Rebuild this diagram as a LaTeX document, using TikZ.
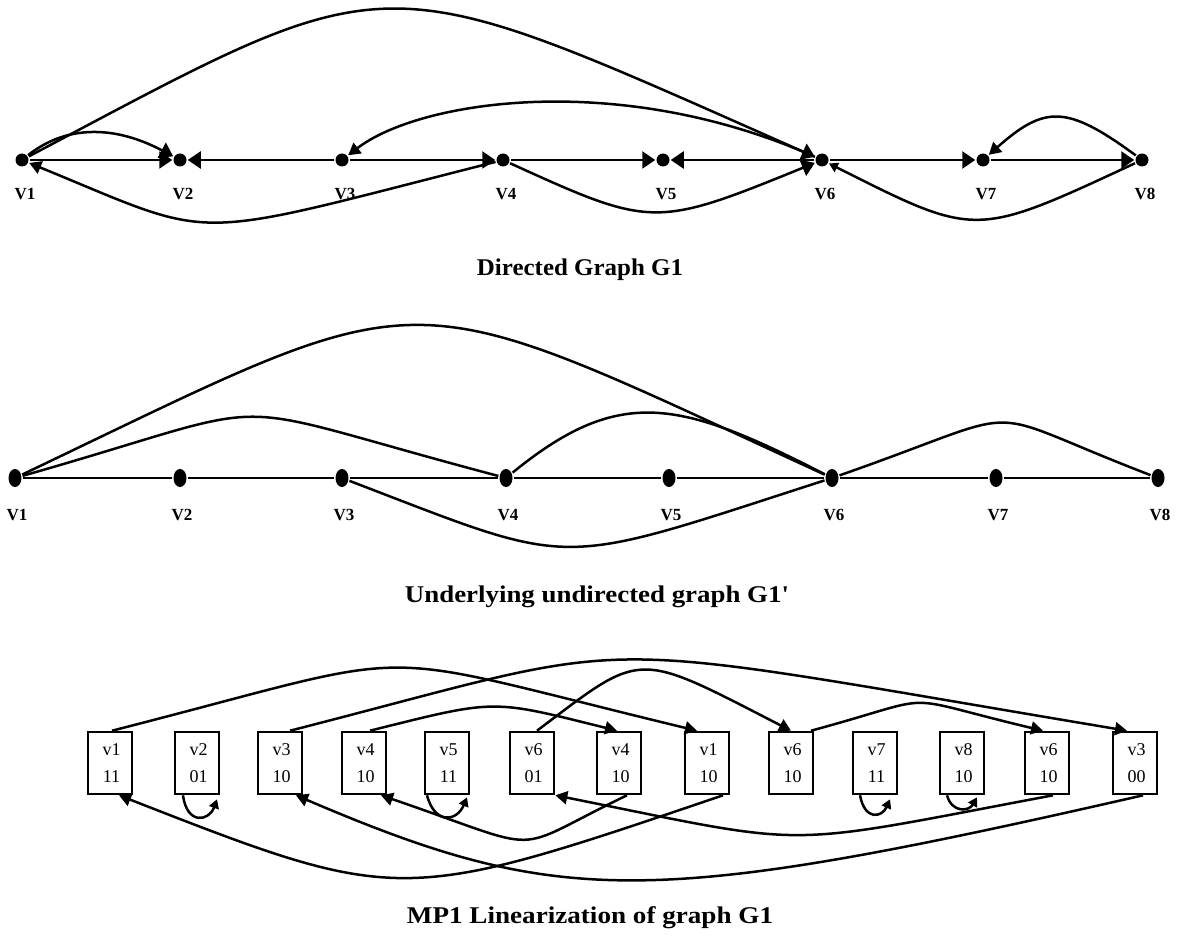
\documentclass[tikz,border=0pt]{standalone}
\usepackage{fontspec}
\setmainfont{Liberation Serif}[Ligatures=TeXOff]
\usetikzlibrary{arrows.meta,shapes.geometric}
\begin{document}
\begin{tikzpicture}[x=1pt,y=-1pt,line width=2.5pt,
  dot/.style={circle,fill=black,inner sep=0pt,minimum size=13pt},
  udot/.style={ellipse,fill=black,inner sep=0pt,minimum width=13pt,minimum height=18pt},
  lab/.style={font=\fontsize{17}{18}\selectfont\bfseries,inner sep=0pt},
  ttl/.style={font=\fontsize{24}{26}\selectfont\bfseries,inner sep=0pt},
  cell/.style={draw,line width=2.6pt,minimum width=44pt,minimum height=62pt,inner sep=0pt,align=center,font=\fontsize{18}{27}\selectfont},
  big/.style={-{Triangle[length=13pt,width=17pt]}},
  mid/.style={-{Triangle[length=12pt,width=13pt]}},
  sml/.style={-{Triangle[length=9pt,width=10pt]}}
]
\fill[white] (0,0) rectangle (1183,941);
\useasboundingbox (0,0) rectangle (1183,941);

% ---------- Directed graph G1 ----------
\foreach \i/\x in {1/22,2/180,3/342,4/503,5/663,6/822,7/983,8/1142}{
  \node[dot] (A\i) at (\x,160) {};
  \node[lab] (LA\i) at (\x+3,194) {V\i};
}
\draw[big] (A1) -- (A2);
\draw[big] (A3) -- (A2);
\draw[big] (A3) -- (A4);
\draw[big] (A4) -- (A5);
\draw[big] (A6) -- (A5);
\draw[big] (A6) -- (A7);
\draw[big] (A7) -- (A8);
\draw[big] (A1) .. controls (400,-40) and (370,-40) .. (A6);
\draw[big] (A1) .. controls (70,122) and (120,128) .. (A2);
\draw[mid] (A6) .. controls (620,70) and (420,100) .. (A3);
\draw[mid] (A4) .. controls (180,242) and (222,242) .. (A1);
\draw[big] (A4) .. controls (652,228) and (655,228) .. (A6);
\draw[sml] (A8) .. controls (974,238) and (977,238) .. (A6);
\draw[mid] (A8) .. controls (1067,105) and (1045,105) .. (A7);
\node[ttl] (T1) at (580,270) {\scalebox{1.04}[1]{Directed Graph G1}};

% ---------- Underlying undirected graph ----------
\foreach \i/\x in {1/15,2/180,3/342,4/506,5/669,6/832,7/996,8/1158}{
  \node[udot] (B\i) at (\x,478) {};
  \node[lab] (LB\i) at (\x+2,515) {V\i};
}
\draw (B1) -- (B2) -- (B3) -- (B4) -- (B5) -- (B6) -- (B7) -- (B8);
\draw (B1) .. controls (440,275) and (390,275) .. (B6);
\draw (B1) .. controls (300,397) and (200,397) .. (B4);
\draw (B4) .. controls (620,385) and (680,400) .. (B6);
\draw (B3) .. controls (580,569) and (550,569) .. (B6);
\draw (B6) .. controls (1041,405) and (968,405) .. (B8);
\node[ttl] (T2) at (597,597) {\scalebox{1.12}[1]{Underlying undirected graph G1'}};

% ---------- MP1 linearization ----------
\foreach \i/\x/\a/\b in {0/110/v1/11,1/197/v2/01,2/280/v3/10,3/364/v4/10,4/447/v5/11,5/532/v6/01,6/619/v4/10,7/707/v1/10,8/791/v6/10,9/875/v7/11,10/962/v8/10,11/1047/v6/10,12/1135/v3/00}{
  \node[cell] (C\i) at (\x,763) {\hspace*{3pt}\a\\\hspace*{3pt}\b};
}
% upper arcs
\draw[mid] ([xshift=2pt]C0.north) .. controls (440,647) and (350,647) .. ([xshift=-10pt]C7.north);
\draw[mid] ([xshift=10pt]C2.north) .. controls (660,636) and (560,636) .. ([xshift=-8pt]C12.north);
\draw[mid] ([xshift=6pt]C3.north) .. controls (497,699) and (490,699) .. ([xshift=-2pt]C6.north);
\draw[mid] ([xshift=5pt]C5.north) .. controls (644,650) and (634,650) .. (C8.north);
\draw[mid] ([xshift=20pt]C8.north) .. controls (947,694) and (889,694) .. ([xshift=-4pt]C11.north);
% lower arcs
\draw[mid] ([xshift=16pt]C7.south) .. controls (400,905) and (400,905) .. ([xshift=9pt]C0.south);
\draw[mid] ([xshift=8pt]C12.south) .. controls (650,908) and (560,908) .. ([xshift=16pt]C2.south);
\draw[mid] ([xshift=6pt]C11.south) .. controls (773,848) and (818,848) .. (C5.south east);
\draw[mid] ([xshift=8pt]C6.south) .. controls (505,854) and (553,854) .. ([xshift=17pt]C3.south);
% self loops
\draw[sml] ([xshift=-14pt]C1.south) .. controls +(4,30) and +(-8,22) .. ([xshift=20pt,yshift=-4pt]C1.south);
\draw[sml] ([xshift=-20pt]C4.south) .. controls +(8,30) and +(-10,24) .. ([xshift=20pt,yshift=-2pt]C4.south);
\draw[sml] ([xshift=-15pt]C9.south) .. controls +(5,26) and +(-8,18) .. ([xshift=15pt,yshift=-4pt]C9.south);
\draw[sml] ([xshift=-15pt]C10.south) .. controls +(5,18) and +(-8,14) .. ([xshift=15pt,yshift=-2pt]C10.south);
\node[ttl] (T3) at (590,918) {\scalebox{1.13}[1]{MP1 Linearization of graph G1}};
\end{tikzpicture}
\end{document}
